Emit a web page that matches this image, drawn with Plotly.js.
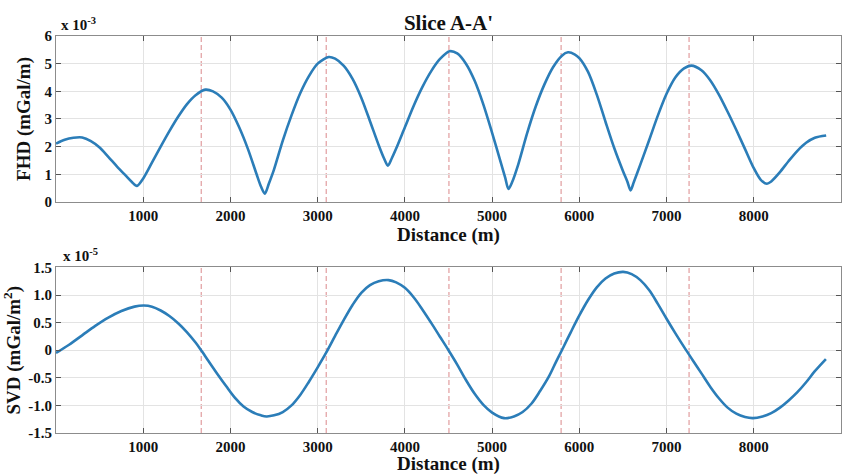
<!DOCTYPE html>
<html>
<head>
<meta charset="utf-8">
<script src="https://cdn.plot.ly/plotly-3.0.1.min.js"></script>
<style>html,body{margin:0;padding:0;background:#fff;}#chart{width:849px;height:475px;}</style>
</head>
<body>
<div id="chart"></div>
<script>
// FHD profile (x 10^-3 mGal/m)
const fhdDist = [0,100,200,300,400,500,600,700,800,870,928,1000,1100,1200,1300,1400,1500,1600,1712,1800,1900,2000,2100,2200,2300,2350,2394,2440,2500,2600,2700,2800,2900,3000,3126,3200,3300,3400,3500,3600,3700,3760,3805,3850,3900,4000,4100,4200,4300,4400,4511,4600,4700,4800,4900,5000,5100,5150,5187,5230,5300,5400,5500,5600,5700,5800,5870,5950,6000,6100,6200,6300,6400,6500,6550,6587,6625,6700,6800,6900,7000,7100,7200,7284,7400,7500,7600,7700,7800,7900,8000,8080,8150,8200,8300,8400,8500,8600,8700,8830];
const fhdVal  = [2.11,2.25,2.32,2.33,2.20,1.97,1.63,1.28,0.95,0.72,0.58,0.85,1.42,2.00,2.56,3.08,3.53,3.86,4.06,4.00,3.77,3.34,2.70,1.92,1.00,0.56,0.30,0.66,1.18,2.22,3.13,3.93,4.55,5.00,5.24,5.18,4.92,4.45,3.77,2.92,2.05,1.58,1.31,1.58,1.93,2.70,3.47,4.15,4.72,5.16,5.45,5.37,5.00,4.38,3.52,2.50,1.42,0.88,0.47,0.72,1.36,2.47,3.45,4.25,4.88,5.29,5.41,5.33,5.20,4.70,3.88,2.90,1.95,1.12,0.74,0.42,0.72,1.36,2.23,3.12,3.91,4.50,4.83,4.93,4.76,4.40,3.88,3.26,2.60,1.91,1.22,0.80,0.66,0.74,1.08,1.48,1.85,2.14,2.32,2.40];
// SVD profile (x 10^-5 mGal/m^2)
const svdDist = [0,150,300,450,600,750,900,1008,1100,1200,1300,1400,1500,1600,1673,1750,1850,1950,2050,2150,2250,2350,2414,2500,2600,2700,2800,2900,3000,3099,3200,3300,3400,3500,3600,3700,3813,3900,4000,4100,4200,4300,4400,4500,4600,4700,4800,4900,5000,5137,5250,5350,5450,5550,5650,5730,5800,5900,6000,6100,6200,6300,6400,6503,6600,6700,6800,6900,7000,7100,7200,7300,7400,7500,7600,7700,7800,7900,7989,8100,8200,8300,8400,8500,8600,8700,8827];
const svdVal  = [-0.05,0.10,0.27,0.44,0.59,0.71,0.79,0.81,0.79,0.72,0.62,0.49,0.33,0.14,-0.02,-0.20,-0.43,-0.65,-0.86,-1.02,-1.12,-1.18,-1.20,-1.18,-1.12,-1.00,-0.81,-0.57,-0.31,-0.04,0.26,0.55,0.82,1.04,1.18,1.25,1.27,1.23,1.13,0.96,0.74,0.50,0.25,0.00,-0.26,-0.54,-0.79,-0.99,-1.13,-1.23,-1.20,-1.12,-0.97,-0.74,-0.48,-0.22,0.00,0.32,0.63,0.91,1.14,1.30,1.39,1.42,1.38,1.27,1.09,0.84,0.57,0.31,0.06,-0.18,-0.42,-0.66,-0.87,-1.04,-1.15,-1.21,-1.23,-1.20,-1.14,-1.04,-0.91,-0.76,-0.58,-0.38,-0.16];
// boundaries (dashed lines)
const boundaries = [1665,3098,4505,5791,7258];
// ticks
const xTicks = [1000,2000,3000,4000,5000,6000,7000,8000,9000];
const fhdTicks = [0,1,2,3,4,5,6];
const svdTicks = [-1.5,-1.0,-0.5,0,0.5,1.0,1.5];
const svdTickText = ['-1.5','-1.0','-0.5','0','0.5','1.0','1.5'];

const FONT = '"Liberation Serif", "Times New Roman", serif';
const lineColor = '#2b7db8';
const dashColor = '#de9496';

const traces = [
  {x: fhdDist, y: fhdVal, xaxis:'x', yaxis:'y', type:'scatter', mode:'lines',
   line:{color:lineColor, width:2.6, shape:'spline', smoothing:0.8}, hoverinfo:'skip'},
  {x: svdDist, y: svdVal, xaxis:'x2', yaxis:'y2', type:'scatter', mode:'lines',
   line:{color:lineColor, width:2.6, shape:'spline', smoothing:1.0}, hoverinfo:'skip'}
];

const shapes = [];
boundaries.forEach(b => {
  shapes.push({type:'line', xref:'x', yref:'y domain', x0:b, x1:b, y0:0, y1:1,
    line:{color:dashColor, width:1.1, dash:'5px,3px'}, layer:'below'});
  shapes.push({type:'line', xref:'x2', yref:'y2 domain', x0:b, x1:b, y0:0, y1:1,
    line:{color:dashColor, width:1.1, dash:'5px,3px'}, layer:'below'});
});

function xAxis(anchor){
  return {
    anchor: anchor, range:[0,9000], tickvals:xTicks, ticktext:xTicks.map(String),
    showgrid:true, gridcolor:'#e3e3e3', gridwidth:1, zeroline:false,
    showline:true, linecolor:'#8c8c8c', linewidth:1, mirror:'ticks',
    ticks:'inside', ticklen:5, tickcolor:'#555',
    tickfont:{family:FONT, size:15, color:'#111', weight:'bold'},
    title:{text:'<b>Distance (m)</b>', font:{family:FONT, size:19, color:'#111'}, standoff:0},
    automargin:false
  };
}
function yAxis(anchor, domain, range, tv, tt, title){
  return {
    anchor: anchor, domain: domain, range: range, tickvals: tv, ticktext: tt,
    showgrid:true, gridcolor:'#e3e3e3', gridwidth:1, zeroline:false,
    showline:true, linecolor:'#8c8c8c', linewidth:1, mirror:'ticks',
    ticks:'inside', ticklen:5, tickcolor:'#555',
    tickfont:{family:FONT, size:15, color:'#111', weight:'bold'},
    title:{text:title, font:{family:FONT, size:19, color:'#111'}, standoff:8},
    automargin:false
  };
}

const layout = {
  width:849, height:475,
  margin:{l:56, r:8, t:36, b:42},
  paper_bgcolor:'#fff', plot_bgcolor:'#fff',
  showlegend:false,
  title:{text:"<b>Slice A-A'</b>", font:{family:FONT, size:21, color:'#111'},
         x:0.5, xref:'paper', y:0.953, yanchor:'middle'},
  xaxis: xAxis('y'),
  yaxis: yAxis('x', [0.582,1], [0,6], fhdTicks, fhdTicks.map(String), '<b>FHD (mGal/m)</b>'),
  xaxis2: xAxis('y2'),
  yaxis2: yAxis('x2', [0,0.417], [-1.5,1.5], svdTicks, svdTickText, '<b>SVD (mGal/m<sup>2</sup>)</b>'),
  shapes: shapes,
  annotations: [
    {text:'<b>x 10<sup>-3</sup></b>', xref:'paper', yref:'paper', x:0.004, y:1.0, xanchor:'left', yanchor:'bottom', yshift:1,
     showarrow:false, font:{family:FONT, size:15, color:'#111'}},
    {text:'<b>x 10<sup>-5</sup></b>', xref:'paper', yref:'paper', x:0.006, y:0.417, xanchor:'left', yanchor:'bottom', yshift:1,
     showarrow:false, font:{family:FONT, size:15, color:'#111'}}
  ]
};

Plotly.newPlot('chart', traces, layout, {staticPlot:true, displayModeBar:false});
</script>
</body>
</html>
